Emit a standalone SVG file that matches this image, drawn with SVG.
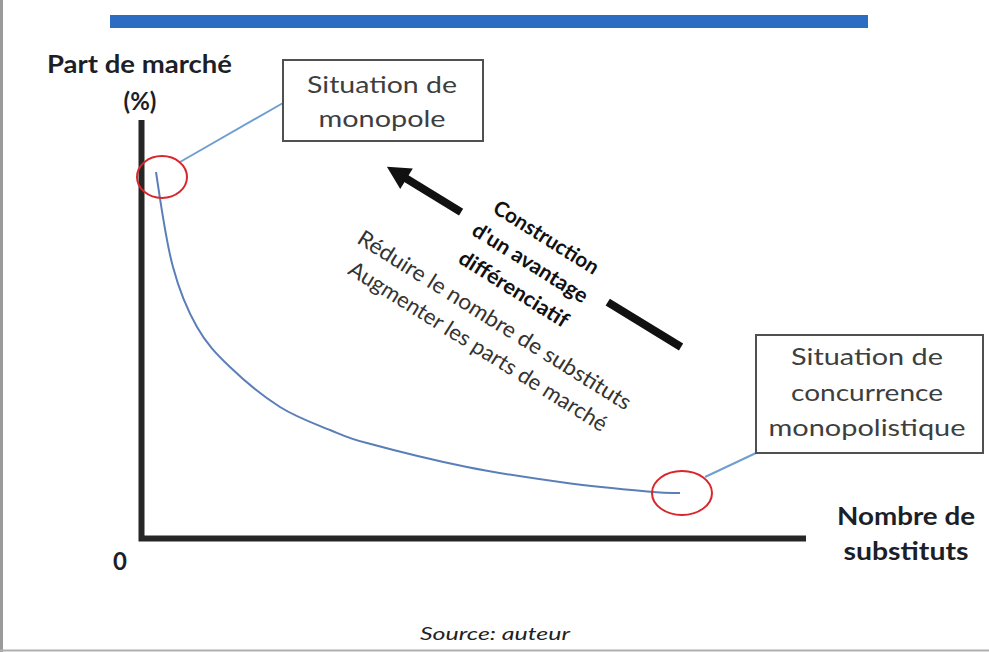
<svg xmlns="http://www.w3.org/2000/svg" width="989" height="652" viewBox="0 0 989 652">
<style>
.lbl{font-family:Lato,"Liberation Sans",sans-serif;font-weight:bold;fill:#1c1f28;font-size:24px;text-anchor:middle}
.box{fill:#ffffff;stroke:#505050;stroke-width:2}
.btxt{font-family:Lato,"Liberation Sans",sans-serif;fill:#3e3e3e;font-size:24px;text-anchor:middle}
.conn{fill:none;stroke:#6f9fd0;stroke-width:2}
.ring{fill:none;stroke:#d9262b;stroke-width:2}
.axis{stroke:#262626;stroke-width:6;fill:none}
.rb{font-family:Lato,"Liberation Sans",sans-serif;font-weight:bold;fill:#111;font-size:21px;text-anchor:middle}
.rn{font-family:Lato,"Liberation Sans",sans-serif;fill:#333;font-size:22px;text-anchor:middle}
</style>
<rect x="0" y="0" width="989" height="652" fill="#ffffff"/>
<line x1="1.5" y1="0" x2="1.5" y2="652" stroke="#9a9a9a" stroke-width="3"/>
<line x1="0" y1="650.5" x2="989" y2="650.5" stroke="#b0b0b0" stroke-width="2"/>
<rect x="110" y="15" width="758" height="13" fill="#2c6cc2"/>

<g id="axes">
<path class="axis" d="M141.5 120 V538.5 H806"/>
<text class="lbl" x="139.5" y="73" textLength="185" lengthAdjust="spacingAndGlyphs">Part de marché</text>
<text class="lbl" x="140" y="110" font-size="26">(%)</text>
<text class="lbl" x="120" y="570" font-size="21">0</text>
<text class="lbl" x="906" y="525" textLength="138" lengthAdjust="spacingAndGlyphs">Nombre de</text>
<text class="lbl" x="906" y="560" textLength="125" lengthAdjust="spacingAndGlyphs">substituts</text>
</g>

<g id="curve">
<path d="M156 172 C161 205 166 242 173 267 C178.8 288.7 187.5 310.3 197 327 C206.5 343.7 216.2 353.7 230 367 C243.8 380.3 263.3 396.5 280 407 C296.7 417.5 315.5 424 330 430 C344.5 436 350 439 367 443 C389.8 449.2 433.7 460.3 467 467 C500.3 473.7 536 478.8 567 483 C598 487.2 634.2 490.3 653 492 C671.8 493.7 675.5 492.8 680 493" fill="none" stroke="#5a7fb8" stroke-width="2"/>
</g>

<g id="connectors">
<line class="conn" x1="180" y1="162" x2="283" y2="103"/>
<line class="conn" x1="705" y1="477" x2="756" y2="453"/>
</g>

<g id="ring-monopole">
<ellipse class="ring" cx="162" cy="177" rx="25" ry="21"/>
</g>
<g id="ring-concurrence">
<ellipse class="ring" cx="682" cy="493" rx="30" ry="22"/>
</g>

<g id="node-monopole">
<rect class="box" x="283" y="60" width="200" height="81"/>
<text class="btxt" x="382" y="93" textLength="150" lengthAdjust="spacingAndGlyphs">Situation de</text>
<text class="btxt" x="382" y="127" textLength="127" lengthAdjust="spacingAndGlyphs">monopole</text>
</g>

<g id="node-concurrence">
<rect class="box" x="756" y="335" width="227" height="118"/>
<text class="btxt" x="867" y="365" textLength="152" lengthAdjust="spacingAndGlyphs">Situation de</text>
<text class="btxt" x="867" y="401" textLength="152" lengthAdjust="spacingAndGlyphs">concurrence</text>
<text class="btxt" x="867" y="436" textLength="197" lengthAdjust="spacingAndGlyphs">monopolistique</text>
</g>

<g id="arrow-avantage" transform="rotate(31.5)">
<polygon points="417,-60 440,-72 440,-48" fill="#111"/>
<line x1="436" y1="-60" x2="504" y2="-60" stroke="#111" stroke-width="8"/>
<line x1="676" y1="-60" x2="762" y2="-60" stroke="#111" stroke-width="8"/>
</g>

<g id="text-rotated" transform="rotate(32)">
<text class="rb" x="589" y="-81" textLength="120" lengthAdjust="spacingAndGlyphs">Construction</text>
<text class="rb" x="589" y="-51" textLength="132" lengthAdjust="spacingAndGlyphs">d'un avantage</text>
<text class="rb" x="589" y="-20" textLength="125" lengthAdjust="spacingAndGlyphs">différenciatif</text>
<text class="rn" x="589" y="17" textLength="318" lengthAdjust="spacingAndGlyphs">Réduire le nombre de substituts</text>
<text class="rn" x="589" y="48" textLength="300" lengthAdjust="spacingAndGlyphs">Augmenter les parts de marché</text>
</g>

<text x="495" y="640" font-family="Lato,'Liberation Sans',sans-serif" font-style="italic" font-size="18" fill="#222" text-anchor="middle" textLength="150" lengthAdjust="spacingAndGlyphs">Source: auteur</text>
</svg>
